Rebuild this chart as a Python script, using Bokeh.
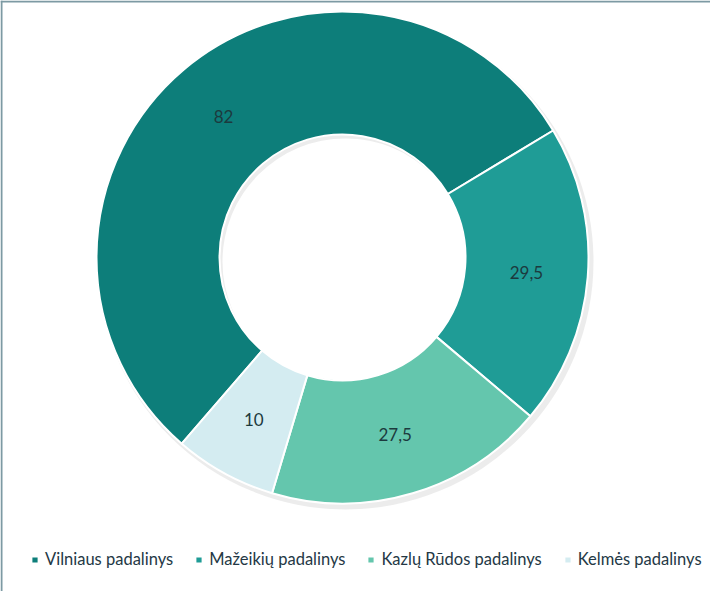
import math
import numpy as np
from bokeh.plotting import figure
from bokeh.models import Range1d, ColumnDataSource, Legend, LegendItem, Span, LabelSet
from bokeh.core.properties import value
from bokeh.embed import file_html
from bokeh.resources import INLINE

# ---- data ----
names = ["Vilniaus padalinys", "Mažeikių padalinys", "Kazlų Rūdos padalinys", "Kelmės padalinys"]
values = [82, 29.5, 27.5, 10]
value_labels = ["82", "29,5", "27,5", "10"]
colors = ["#0d7e7a", "#1f9c96", "#64c6ad", "#d4ecf1"]

# ---- layout ----
W, H = 710, 591
cx, cy = 342, H - 257
r_out, r_in = 246, 123
first_angle = -139.2  # degrees clockwise from 12 o'clock

total = sum(values)
fr = np.array(values) / total
ends = first_angle + np.cumsum(fr) * 360
starts = ends - fr * 360
mids = (starts + ends) / 2

src = ColumnDataSource(dict(
    name=names,
    color=colors,
    start=np.radians(90 - starts),
    end=np.radians(90 - ends),
    lx=cx + (r_out + r_in) / 2 * np.sin(np.radians(mids)),
    ly=cy + (r_out + r_in) / 2 * np.cos(np.radians(mids)),
    lab=value_labels,
))

p = figure(width=W, height=H, output_backend="svg", toolbar_location=None,
           x_range=Range1d(0, W), y_range=Range1d(0, H), min_border=0)
p.axis.visible = False
p.grid.visible = False
p.outline_line_color = None
p.background_fill_color = "white"

# soft shadow
p.annular_wedge(x=cx + 3, y=cy - 4, inner_radius=r_in, outer_radius=r_out + 2,
                start_angle=0, end_angle=2 * math.pi, fill_color="#c8c8c8",
                fill_alpha=0.35, line_color=None)

renderers = []
for i in range(len(names)):
    view_src = ColumnDataSource({k: [v[i]] for k, v in src.data.items()})
    r = p.annular_wedge(x=cx, y=cy, inner_radius=r_in, outer_radius=r_out,
                        start_angle="start", end_angle="end", direction="clock",
                        fill_color="color", line_color="white", line_width=2,
                        source=view_src)
    renderers.append(r)

labels = LabelSet(x="lx", y="ly", text="lab", source=src, text_align="center",
                  text_baseline="middle", text_font=value("Lato"), text_font_size="17px",
                  text_color="#1c3a3e")
p.add_layout(labels)

# frame lines (top and left)
p.add_layout(Span(location=H - 1, dimension="width", line_color="#7d9aa3", line_width=2))
p.add_layout(Span(location=1, dimension="height", line_color="#7d9aa3", line_width=2))

legend = Legend(items=[LegendItem(label=n, renderers=[r]) for n, r in zip(names, renderers)],
                orientation="horizontal", location=(30, 22), glyph_width=9, glyph_height=9,
                label_text_font="Lato", label_text_font_size="16.5px", label_text_color="#243845",
                spacing=21, label_standoff=6, padding=0, margin=0,
                border_line_color=None, background_fill_alpha=0)
p.add_layout(legend)

open("out.html", "w").write(file_html(p, INLINE))
